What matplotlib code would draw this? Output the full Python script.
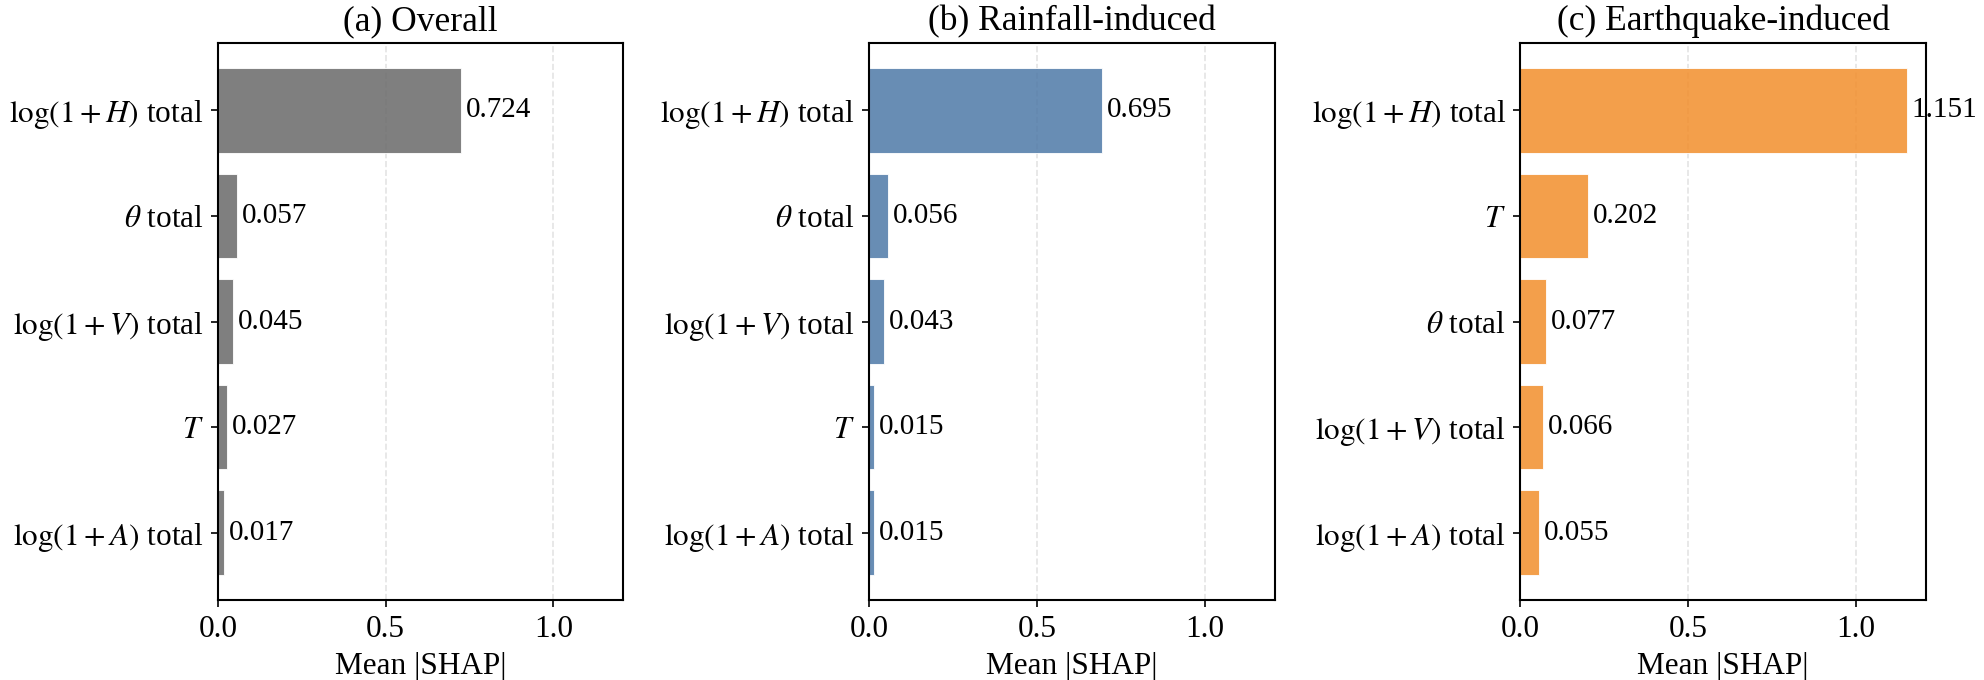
import numpy as np
import matplotlib.pyplot as plt

plt.rcParams['font.family'] = ['Liberation Serif', 'DejaVu Serif']
plt.rcParams['mathtext.fontset'] = 'stix'
plt.rcParams['font.size'] = 15

# feature labels and mean |SHAP| values per panel (top to bottom)
labels_overall = [r'$\log(1+H)$ total', r'$\theta$ total', r'$\log(1+V)$ total', r'$T$', r'$\log(1+A)$ total']
values_overall = [0.724, 0.057, 0.045, 0.027, 0.017]

labels_rain = [r'$\log(1+H)$ total', r'$\theta$ total', r'$\log(1+V)$ total', r'$T$', r'$\log(1+A)$ total']
values_rain = [0.695, 0.056, 0.043, 0.015, 0.015]

labels_eq = [r'$\log(1+H)$ total', r'$T$', r'$\theta$ total', r'$\log(1+V)$ total', r'$\log(1+A)$ total']
values_eq = [1.151, 0.202, 0.077, 0.066, 0.055]

titles = ['(a) Overall', '(b) Rainfall-induced', '(c) Earthquake-induced']
colors = ['#696969', '#4E79A7', '#F28E2B']

panels = [(labels_overall, values_overall), (labels_rain, values_rain), (labels_eq, values_eq)]
xmax = max(max(v) for _, v in panels) * 1.05

fig, axes = plt.subplots(1, 3, figsize=(1985 / 150, 680 / 150), dpi=150)
plt.subplots_adjust(left=0.1098, right=0.9702, bottom=0.1176, top=0.9368, wspace=0.606)

for ax, (labels, vals), title, c in zip(axes, panels, titles, colors):
    y = np.arange(len(vals))
    ax.barh(y, vals, height=0.8, color=c, alpha=0.85, edgecolor='white', linewidth=0.5)
    for yi, v in zip(y, vals):
        ax.text(v + 0.015, yi, f'{v:.3f}', ha='left', va='center', fontsize=14)
    ax.set_yticks(y)
    ax.set_yticklabels(labels)
    ax.invert_yaxis()
    ax.set_xlim(0, xmax)
    ax.set_xticks([0.0, 0.5, 1.0])
    ax.set_xlabel('Mean |SHAP|', fontsize=15)
    ax.set_title(title, fontsize=17)
    ax.set_axisbelow(True)
    ax.grid(axis='x', linestyle='--', color='#d9d9d9', linewidth=0.8, alpha=0.7)
    for s in ax.spines.values():
        s.set_linewidth(1.0)

plt.savefig('out.png', dpi=150)
plt.close()
